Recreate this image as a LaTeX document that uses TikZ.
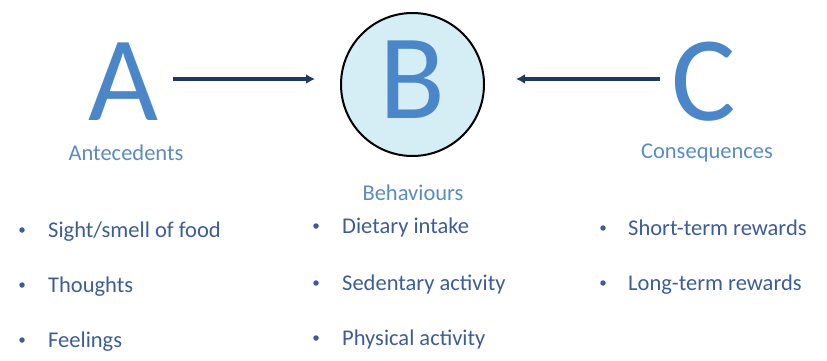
\documentclass[tikz,border=0pt]{standalone}
\usepackage{fontspec}
\setmainfont{Carlito}
\usetikzlibrary{arrows.meta}
\definecolor{bigblue}{HTML}{4A86C8}
\definecolor{headblue}{HTML}{5A8BC9}
\definecolor{itemblue}{HTML}{3D5C98}
\definecolor{arrownavy}{HTML}{1F3A60}
\definecolor{circfill}{HTML}{D5EDF5}
\tikzset{
  bigletter/.style={font=\fontsize{121}{121}\selectfont, text=bigblue, anchor=base, inner sep=0pt, text height=78pt, text depth=0pt},
  headtext/.style={font=\fontsize{22.5}{22.5}\selectfont, text=headblue, anchor=base, inner sep=0pt},
  itemtext/.style={font=\fontsize{22.5}{22.5}\selectfont, text=itemblue, anchor=base west, inner sep=0pt},
  bulletdot/.style={circle, fill=itemblue, inner sep=0pt, minimum size=5.5pt},
  arr/.style={draw=arrownavy, line width=3.5pt, -{Latex[length=9pt,width=10pt]}},
}
\begin{document}
\begin{tikzpicture}[x=1pt,y=-1pt]
\useasboundingbox (0,0) rectangle (827,361);
% circle
\node[circle, draw=black, line width=2pt, fill=circfill, minimum size=143pt, inner sep=0pt] (circ) at (412.5,84.5) {};
% letters
\node[bigletter] (A) at (124,120) {A};
\node[bigletter] (B) at (412,118) {B};
\node[bigletter] (C) at (704,120) {C};
% headings
\node[headtext] (ant) at (126,160) {Antecedents};
\node[headtext] (beh) at (413,200) {Behaviours};
\node[headtext] (con) at (707,158) {Consequences};
% arrows
\coordinate (aS) at (173,79);
\coordinate (aE) at (315,79);
\coordinate (cS) at (660,79);
\coordinate (cE) at (516,79);
\draw[arr] (aS) -- (aE);
\draw[arr] (cS) -- (cE);
% left list
\node[bulletdot] (b1) at (22,230) {};
\node[itemtext] (t1) at (48,237) {Sight/smell of food};
\node[bulletdot] (b2) at (22,285) {};
\node[itemtext] (t2) at (48,292) {Thoughts};
\node[bulletdot] (b3) at (22,340) {};
\node[itemtext] (t3) at (48,347) {Feelings};
% middle list
\node[bulletdot] (b4) at (316,226) {};
\node[itemtext] (t4) at (342,233) {Dietary intake};
\node[bulletdot] (b5) at (316,283) {};
\node[itemtext] (t5) at (342,290) {Sedentary activity};
\node[bulletdot] (b6) at (316,338) {};
\node[itemtext] (t6) at (342,345) {Physical activity};
% right list
\node[bulletdot] (b7) at (603,228) {};
\node[itemtext] (t7) at (628,235) {Short-term rewards};
\node[bulletdot] (b8) at (603,283) {};
\node[itemtext] (t8) at (628,290) {Long-term rewards};
\end{tikzpicture}
\end{document}
